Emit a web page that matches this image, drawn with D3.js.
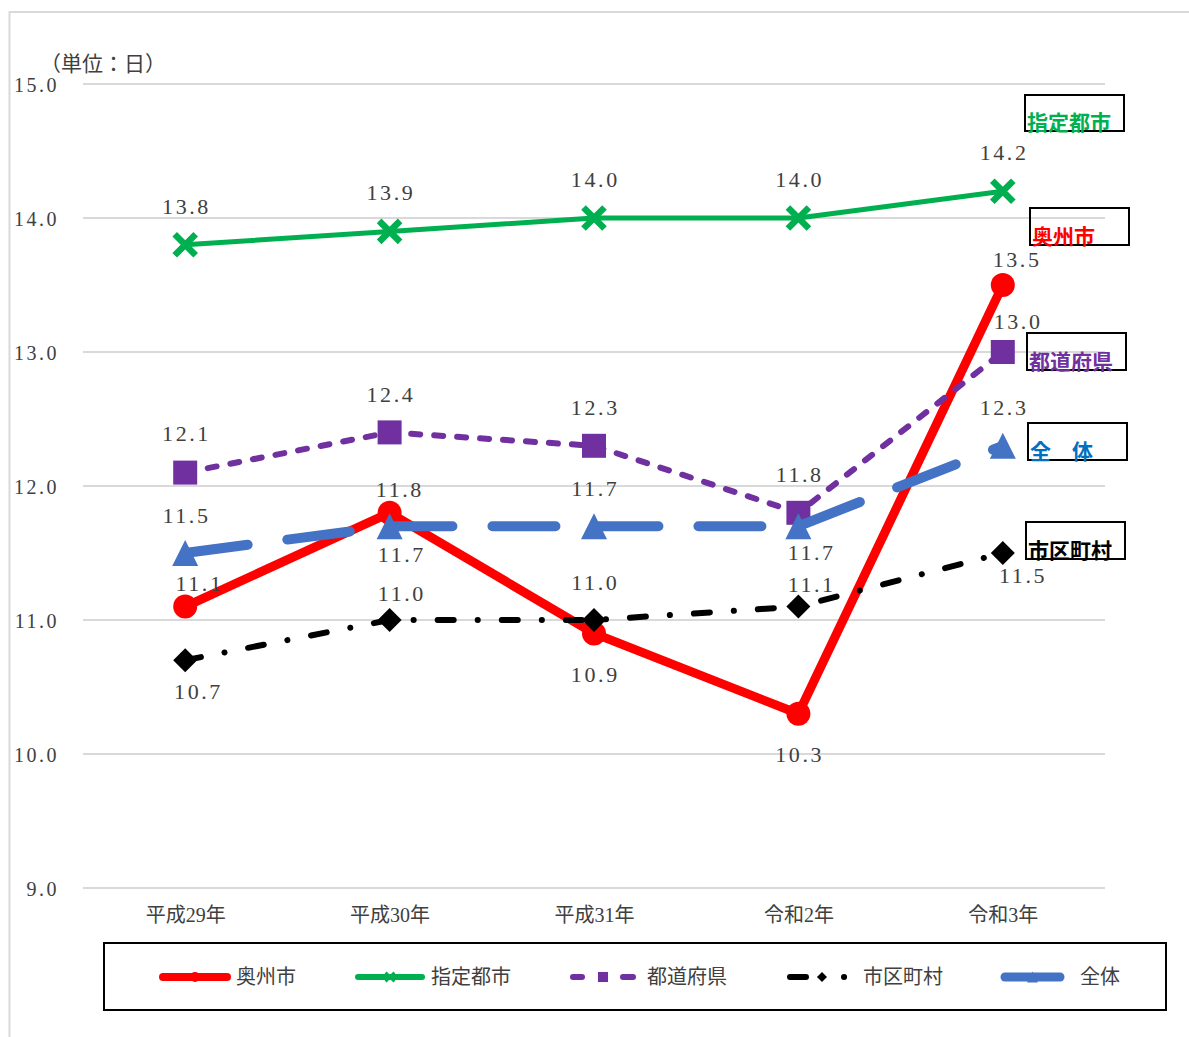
<!DOCTYPE html>
<html><head><meta charset="utf-8">
<script src="https://cdn.jsdelivr.net/npm/d3@7"></script>
<style>
html,body{margin:0;padding:0;background:#fff;}
svg{display:block;}
</style></head>
<body>
<svg id="chart" width="1189" height="1037"></svg>
<script>
// ---- data ----
const categories = ["平成29年", "平成30年", "平成31年", "令和2年", "令和3年"];
const seriesNames = ["奥州市", "指定都市", "都道府県", "市区町村", "全体"];
const oshu     = [11.1, 11.8, 10.9, 10.3, 13.5];
const shitei   = [13.8, 13.9, 14.0, 14.0, 14.2];
const todofuken= [12.1, 12.4, 12.3, 11.8, 13.0];
const shikuchoson = [10.7, 11.0, 11.0, 11.1, 11.5];
const zentai    = [11.5, 11.7, 11.7, 11.7, 12.3];
const yTicks = [9, 10, 11, 12, 13, 14, 15];
const unitLabel = "（単位：日）";
const boxLabels = ["指定都市", "奥州市", "都道府県", "全　体", "市区町村"];

// ---- layout (not data) ----
const labelOffsets = {
  "奥州市":   [[13,-23],[9,-24],[0,41],[0,40],[13,-26]],
  "指定都市": [[0,-39],[0,-39],[0,-39],[0,-39],[0,-39]],
  "都道府県": [[0,-39],[0,-38],[0,-39],[0,-39],[14,-31]],
  "市区町村": [[12,31],[11,-27],[0,-38],[12,-22],[19,22]],
  "全体":     [[0,-38],[11,28],[0,-38],[12,26],[0,-39]]
};
const boxLayout = [
  {x:1025, y:95,  w:99, h:36, color:"#00B050"},
  {x:1030, y:208, w:99, h:37, color:"#FF0000"},
  {x:1027, y:333, w:99, h:37, color:"#7030A0"},
  {x:1028, y:423, w:99, h:37, color:"#0070C0"},
  {x:1026, y:522, w:99, h:37, color:"#000000"}
];

const seriesData = [
  {name:"奥州市", values:oshu, color:"#FF0000", width:9, dash:null, marker:"circle"},
  {name:"指定都市", values:shitei, color:"#00B050", width:5, dash:null, marker:"x"},
  {name:"都道府県", values:todofuken, color:"#7030A0", width:6, dash:"9,14", marker:"square"},
  {name:"市区町村", values:shikuchoson, color:"#000000", width:6, dash:"16,24,0.1,24", marker:"diamond"},
  {name:"全体", values:zentai, color:"#4472C4", width:10, dash:"63,40", marker:"triangle"}
];

const svg = d3.select("#chart");
const serif = "'Liberation Serif','Noto Sans CJK JP',serif";
const cjk = "'Noto Sans CJK JP','Liberation Serif',sans-serif";
const textColor = "#404040";

// outer chart border
svg.append("rect").attr("x",9.5).attr("y",12).attr("width",1300).attr("height",1200)
  .attr("fill","none").attr("stroke","#d9d9d9").attr("stroke-width",2);

const x = d3.scalePoint().domain(categories).range([83,1105]).padding(0.5);
const y = d3.scaleLinear().domain([9,15]).range([888,84]);

// gridlines
svg.append("g").selectAll("line").data(yTicks).join("line")
  .attr("x1",83).attr("x2",1105)
  .attr("y1",d=>y(d)).attr("y2",d=>y(d))
  .attr("stroke","#d9d9d9").attr("stroke-width",2);

// y axis labels
const yAxis = d3.axisLeft(y).tickValues(yTicks).tickFormat(d3.format(".1f")).tickSize(0).tickPadding(0);
const yg = svg.append("g").attr("transform","translate(59,0)").call(yAxis);
yg.select(".domain").remove();
yg.selectAll("text").attr("font-family",serif).attr("font-size",20)
  .attr("letter-spacing","2.5px").attr("fill",textColor).attr("dy","0.35em");

// x axis labels
const xAxis = d3.axisBottom(x).tickSize(0).tickPadding(0);
const xg = svg.append("g").attr("transform","translate(0,915)").call(xAxis);
xg.select(".domain").remove();
xg.selectAll("text").attr("font-family",serif).attr("font-size",20)
  .attr("fill",textColor).attr("dy","0.35em").attr("y",0);

// unit label
svg.append("text").attr("x",40).attr("y",64).attr("dy","0.35em")
  .attr("font-family",cjk).attr("font-size",21).attr("fill",textColor).text(unitLabel);

function drawMarker(g, type, cx, cy, color, s) {
  s = s || 1;
  if (type==="circle") {
    g.append("circle").attr("cx",cx).attr("cy",cy).attr("r",12*s).attr("fill",color);
  } else if (type==="x") {
    const a = 10.5*s;
    g.append("path").attr("d",`M${cx-a},${cy-a}L${cx+a},${cy+a}M${cx-a},${cy+a}L${cx+a},${cy-a}`)
      .attr("stroke",color).attr("stroke-width",6.5*s).attr("fill","none");
  } else if (type==="square") {
    const a = 12*s;
    g.append("rect").attr("x",cx-a).attr("y",cy-a).attr("width",2*a).attr("height",2*a).attr("fill",color);
  } else if (type==="diamond") {
    const a = 12*s;
    g.append("path").attr("d",`M${cx},${cy-a}L${cx+a},${cy}L${cx},${cy+a}L${cx-a},${cy}Z`).attr("fill",color);
  } else if (type==="triangle") {
    const a = 13*s;
    g.append("path").attr("d",`M${cx},${cy-a}L${cx+a},${cy+a}L${cx-a},${cy+a}Z`).attr("fill",color);
  }
}

const line = d3.line().x((d,i)=>x(categories[i])).y(d=>y(d));

seriesData.forEach(s=>{
  const g = svg.append("g");
  g.append("path").datum(s.values).attr("d",line)
    .attr("fill","none").attr("stroke",s.color).attr("stroke-width",s.width)
    .attr("stroke-linecap","round")
    .attr("stroke-linejoin","round")
    .attr("stroke-dasharray", s.dash);
  s.values.forEach((v,i)=>drawMarker(g, s.marker, x(categories[i]), y(v), s.color, 1));
});

// data labels (drawn on top)
seriesData.forEach(s=>{
  const off = labelOffsets[s.name];
  svg.append("g").selectAll("text").data(s.values).join("text")
    .attr("x",(d,i)=>x(categories[i])+off[i][0]+1.3)
    .attr("y",(d,i)=>y(d)+off[i][1])
    .attr("dy","0.35em").attr("text-anchor","middle")
    .attr("font-family",serif).attr("font-size",22).attr("letter-spacing","2.6px")
    .attr("fill",textColor).text(d=>d3.format(".1f")(d));
});

// boxed annotation labels
boxLayout.forEach((b,i)=>{
  svg.append("rect").attr("x",b.x).attr("y",b.y).attr("width",b.w).attr("height",b.h)
    .attr("fill","none").attr("stroke","#000").attr("stroke-width",2);
  svg.append("text").attr("x",b.x+2).attr("y",b.y+b.h-1.5)
    .attr("font-family",cjk).attr("font-size",21).attr("font-weight",700)
    .attr("fill",b.color).text(boxLabels[i]);
});

// legend
svg.append("rect").attr("x",104).attr("y",943).attr("width",1062).attr("height",67)
  .attr("fill","#fff").attr("stroke","#000").attr("stroke-width",2);
const legendPos = [
  {x1:163, x2:227, tx:236},
  {x1:358, x2:422, tx:431},
  {x1:573, x2:633, tx:647},
  {x1:790, x2:858, tx:863},
  {x1:1005, x2:1060, tx:1080}
];
const legendDash = [null, null, "9,41,10", "16,38,0.1,100", null];
const legendWidth = [8, 6, 6, 6, 9];
seriesData.forEach((s,i)=>{
  const p = legendPos[i];
  const ly = 977;
  const g = svg.append("g");
  g.append("line").attr("x1",p.x1).attr("x2",p.x2).attr("y1",ly).attr("y2",ly)
    .attr("stroke",s.color).attr("stroke-width",legendWidth[i])
    .attr("stroke-linecap","round")
    .attr("stroke-dasharray", legendDash[i]);
  const mx = i===3 ? 822 : (p.x1+p.x2)/2;
  drawMarker(g, s.marker, mx, ly, s.color, 0.42);
  g.append("text").attr("x",p.tx).attr("y",ly).attr("dy","0.35em")
    .attr("font-family",cjk).attr("font-size",20).attr("fill",textColor).text(s.name);
});
</script>
</body></html>
